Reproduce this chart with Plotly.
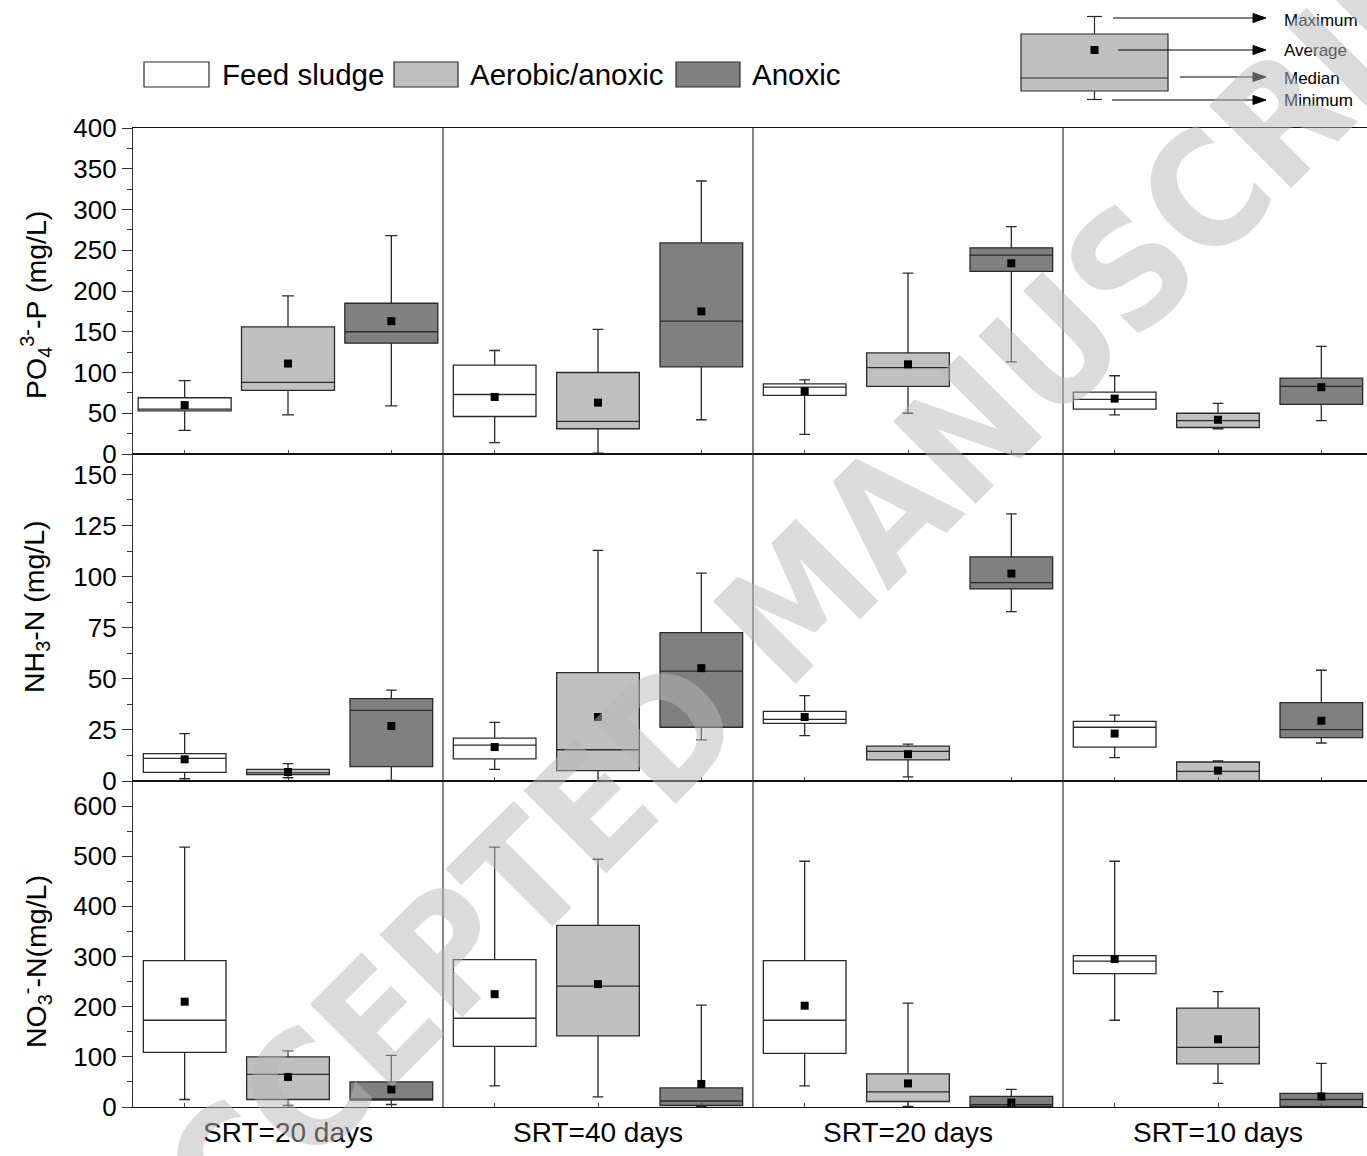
import plotly.graph_objects as go

W, H = 1367, 1156

periods = ["SRT=20 days", "SRT=40 days", "SRT=20 days", "SRT=10 days"]
series = ["Feed sludge", "Aerobic/anoxic", "Anoxic"]

# Each stat: rows = series (feed, aerobic/anoxic, anoxic), columns = periods
PO4_MIN = [[29, 14, 24, 48], [48, 1, 50, 31], [59, 42, 113, 41]]
PO4_Q1 = [[53, 46, 72, 55], [78, 31, 83, 32.5], [136, 107, 224, 61]]
PO4_MED = [[55, 73, 82, 67], [88, 40, 106, 41], [150, 163, 244, 83]]
PO4_Q3 = [[69, 109, 86, 76], [156, 100, 124, 50], [185, 259, 253, 93]]
PO4_MAX = [[90, 127, 91, 96], [194, 153, 222, 62], [268, 335, 279, 132]]
PO4_MEAN = [[60, 70, 77, 68], [111, 63, 110, 42], [163, 175, 234, 82]]

NH3_MIN = [[1.1, 5.7, 22.2, 11.4], [1.6, 0.2, 2.0, 0], [0.3, 20.1, 82.9, 18.6]]
NH3_Q1 = [[4.2, 10.8, 28.2, 16.6], [3.1, 5.1, 10.3, 0.2], [7.0, 26.3, 94, 21.2]]
NH3_MED = [[11.1, 17.6, 30.2, 26.3], [4.0, 15.3, 14.5, 4.7], [34.6, 53.8, 97.1, 25.1]]
NH3_Q3 = [[13.4, 21, 34.1, 29.2], [5.7, 53, 17.1, 9.3], [40.3, 72.6, 109.7, 38.3]]
NH3_MAX = [[23.2, 28.7, 41.8, 32.2], [8.5, 112.8, 18, 9.8], [44.5, 101.7, 130.7, 54.2]]
NH3_MEAN = [[10.6, 16.6, 31.3, 23.2], [4.4, 31.3, 13.1, 5.1], [26.9, 55.2, 101.5, 29.5]]

NO3_MIN = [[15, 42, 42, 173], [3, 20, 1, 47], [5, 1, 1, 0]]
NO3_Q1 = [[109, 121, 107, 266], [15, 142, 11, 86], [14, 3, 1.3, 1]]
NO3_MED = [[173, 177, 173, 291], [65, 241, 30, 119], [16, 12, 4.6, 15]]
NO3_Q3 = [[292, 294, 292, 302], [100, 362, 66, 197], [50, 38, 21, 27]]
NO3_MAX = [[518, 518, 490, 490], [112, 494, 207, 230], [103, 203, 35, 87]]
NO3_MEAN = [[210, 225, 202, 295], [60, 245, 47, 135], [35, 46, 9, 21]]

Y_TITLES = ["PO<sub>4</sub><sup>3-</sup>-P (mg/L)",
            "NH<sub>3</sub>-N (mg/L)",
            "NO<sub>3</sub><sup>-</sup>-N(mg/L)"]

FILLS = ["#FFFFFF", "#C0C0C0", "#808080"]
EDGE = "#2a2a2a"
FONT = "Liberation Sans, Arial, sans-serif"

panels = [
    (PO4_MIN, PO4_Q1, PO4_MED, PO4_Q3, PO4_MAX, PO4_MEAN),
    (NH3_MIN, NH3_Q1, NH3_MED, NH3_Q3, NH3_MAX, NH3_MEAN),
    (NO3_MIN, NO3_Q1, NO3_MED, NO3_Q3, NO3_MAX, NO3_MEAN),
]


def px(x):
    return x / W


def py(y):
    return 1 - y / H


# plot geometry (pixels)
LEFT = 133
COL_W = 310
ROW_EDGES = [128, 454, 781, 1107]
TITLE_Y = [305, 607, 962]
n_cols = len(periods)
x_full = 3 * n_cols
x_visible = x_full * (W - LEFT) / (n_cols * COL_W)

fig = go.Figure()

for r, (mn, q1, md, q3, mx, avg) in enumerate(panels):
    xa = "x" if r == 0 else f"x{r + 1}"
    ya = "y" if r == 0 else f"y{r + 1}"
    for s in range(len(series)):
        for c in range(n_cols):
            pos = 3 * c + s + 0.5
            width = 0.9 if (r == 0 and c == 0) else 0.8
            fig.add_trace(go.Box(
                x=[pos], q1=[q1[s][c]], median=[md[s][c]], q3=[q3[s][c]],
                lowerfence=[mn[s][c]], upperfence=[mx[s][c]],
                width=width, whiskerwidth=0.13,
                fillcolor=FILLS[s], line=dict(color=EDGE, width=1.3),
                boxpoints=False, hoverinfo="skip", showlegend=False,
                xaxis=xa, yaxis=ya,
            ))
        fig.add_trace(go.Scatter(
            x=[3 * c + s + 0.5 for c in range(n_cols)], y=avg[s],
            mode="markers",
            marker=dict(symbol="square", size=8, color="black"),
            hoverinfo="skip", showlegend=False, xaxis=xa, yaxis=ya,
        ))

y_ranges = [[0, 400], [0, 160], [0, 650]]
y_ticks = [list(range(0, 401, 50)), list(range(0, 151, 25)), list(range(0, 601, 100))]
y_minor = [25, 12.5, 50]

layout = dict(
    width=W, height=H,
    margin=dict(l=0, r=0, t=0, b=0, autoexpand=False),
    paper_bgcolor="white", plot_bgcolor="white",
    showlegend=False,
    font=dict(family=FONT, color="black"),
)

for r in range(3):
    suffix = "" if r == 0 else str(r + 1)
    dom = [py(ROW_EDGES[r + 1]), py(ROW_EDGES[r])]
    xaxis = dict(
        domain=[px(LEFT), 1], range=[0, x_visible], anchor="y" + suffix,
        automargin=False,
        showline=True, linecolor="#111", linewidth=1.2, mirror=True,
        showgrid=False, zeroline=False,
        ticks="", showticklabels=False,
        minor=dict(ticks="inside", ticklen=4, tick0=0.5, dtick=1,
                   tickcolor="#444", showgrid=False),
    )
    if r == 2:
        xaxis.update(
            showticklabels=True,
            tickmode="array",
            tickvals=[3 * c + 1.5 for c in range(n_cols)],
            ticktext=periods,
            tickfont=dict(size=28, family=FONT),
        )
    yaxis = dict(
        domain=dom, range=y_ranges[r], anchor="x" + suffix,
        automargin=False,
        showline=True, linecolor="#333", linewidth=1.2, mirror=False,
        showgrid=False, zeroline=False,
        tickmode="array", tickvals=y_ticks[r],
        ticks="outside", ticklen=10, tickcolor="#333",
        tickfont=dict(size=26, family=FONT),
        minor=dict(ticks="outside", ticklen=5, tick0=0, dtick=y_minor[r],
                   tickcolor="#333", showgrid=False),
    )
    layout["xaxis" + suffix] = xaxis
    layout["yaxis" + suffix] = yaxis

fig.update_layout(**layout)

shapes = []
annotations = []

# vertical separators between SRT periods
for c in range(1, n_cols):
    shapes.append(dict(type="line", xref="x", yref="paper",
                       x0=3 * c, x1=3 * c,
                       y0=py(ROW_EDGES[3]), y1=py(ROW_EDGES[0]),
                       line=dict(color="#333", width=1.2)))

# y-axis titles
for r, title in enumerate(Y_TITLES):
    annotations.append(dict(
        text=title, xref="paper", yref="paper",
        x=px(36), y=py(TITLE_Y[r]),
        textangle=-90, showarrow=False, font=dict(size=28.5, family=FONT),
        xanchor="center", yanchor="middle"))

# series legend
legend_items = [(144, 209, 220), (394, 458, 468), (676, 740, 750)]
for s, (x0, x1, tx) in enumerate(legend_items):
    shapes.append(dict(type="rect", xref="paper", yref="paper",
                       x0=px(x0), x1=px(x1), y0=py(87), y1=py(62),
                       fillcolor=FILLS[s], line=dict(color=EDGE, width=1.2)))
    annotations.append(dict(
        text=series[s], xref="paper", yref="paper",
        x=px(tx), y=py(75), xanchor="left", yanchor="middle",
        showarrow=False, font=dict(size=29.5, family=FONT)))

# box-plot key (top right)
kx0, kx1, kcx = 1021, 1168, 1094.5
shapes += [
    dict(type="line", xref="paper", yref="paper", x0=px(kcx), x1=px(kcx),
         y0=py(16.5), y1=py(34), line=dict(color=EDGE, width=1.2)),
    dict(type="line", xref="paper", yref="paper", x0=px(kcx), x1=px(kcx),
         y0=py(91), y1=py(99.5), line=dict(color=EDGE, width=1.2)),
    dict(type="line", xref="paper", yref="paper", x0=px(1087), x1=px(1102),
         y0=py(16.5), y1=py(16.5), line=dict(color=EDGE, width=1.2)),
    dict(type="line", xref="paper", yref="paper", x0=px(1087), x1=px(1102),
         y0=py(99.5), y1=py(99.5), line=dict(color=EDGE, width=1.2)),
    dict(type="rect", xref="paper", yref="paper", x0=px(kx0), x1=px(kx1),
         y0=py(91), y1=py(34), fillcolor="#C0C0C0",
         line=dict(color=EDGE, width=1.2)),
    dict(type="line", xref="paper", yref="paper", x0=px(kx0), x1=px(kx1),
         y0=py(78), y1=py(78), line=dict(color=EDGE, width=1.2)),
    dict(type="rect", xref="paper", yref="paper", x0=px(1090.5), x1=px(1098.5),
         y0=py(54), y1=py(46), fillcolor="black", line=dict(width=0)),
]
key_rows = [("Maximum", 1113, 18, 20), ("Average", 1118, 50, 51),
            ("Median", 1180, 77, 78), ("Minimum", 1112, 100, 101)]
for label, tail, yy, ty in key_rows:
    shapes.append(dict(type="line", xref="paper", yref="paper",
                       x0=px(tail), x1=px(1254), y0=py(yy), y1=py(yy),
                       line=dict(color="black", width=1.2)))
    shapes.append(dict(type="path", xref="paper", yref="paper",
                       path=f"M {px(1253)},{py(yy - 4.5)} L {px(1266)},{py(yy)} "
                            f"L {px(1253)},{py(yy + 4.5)} Z",
                       fillcolor="black", line=dict(color="black", width=1)))
    annotations.append(dict(
        text=label, xref="paper", yref="paper", x=px(1282), y=py(ty),
        xanchor="left", yanchor="middle", showarrow=False,
        font=dict(size=17, family=FONT)))

# diagonal watermark
annotations.append(dict(
    text="ACCEPTED MANUSCRIPT", xref="paper", yref="paper",
    x=px(809), y=py(591), xanchor="center", yanchor="middle",
    textangle=-45, showarrow=False, opacity=0.5,
    font=dict(size=160, family="Liberation Sans Narrow, DejaVu Sans Condensed, sans-serif",
              color="#b8b8b8", weight="bold")))

fig.update_layout(shapes=shapes, annotations=annotations)

fig.write_html("out.html")
